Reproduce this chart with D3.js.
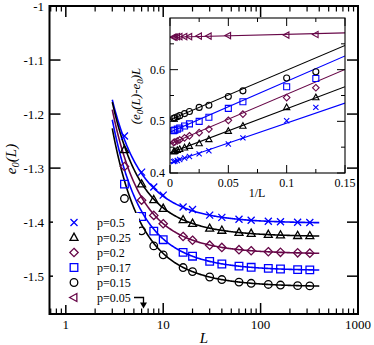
<!DOCTYPE html>
<html><head><meta charset="utf-8">
<script src="https://cdn.jsdelivr.net/npm/d3@7"></script>
<style>
body{margin:0;background:#fff}
svg{display:block}
text{font-family:"Liberation Serif","Times New Roman",serif;fill:#000}
</style>
</head><body><svg id="c" width="374" height="345"></svg>
<script>
// ---------- data ----------
const seriesLabels = ["p=0.5","p=0.25","p=0.2","p=0.17","p=0.15","p=0.05"];
const seriesColors = ["#0000ff","#000000","#670748","#0000ff","#000000","#670748"];
const seriesMarkers = ["x","tri","diamond","square","circle","ltri"];

const mainL = [4,6,8,10,16,20,30,40,60,80,120,160,240,320];
const mainP05  = [-1.2406,-1.3074,-1.3350,-1.3500,-1.3720,-1.3765,-1.3870,-1.3912,-1.3947,-1.3965,-1.3985,-1.3994,-1.4003,-1.4007];
const mainP025 = [-1.2661,-1.3296,-1.3587,-1.3748,-1.3958,-1.4025,-1.4115,-1.4153,-1.4192,-1.4210,-1.4230,-1.4240,-1.4250,-1.4254];
const mainP02  = [-1.2970,-1.3593,-1.3875,-1.4030,-1.4266,-1.4335,-1.4427,-1.4468,-1.4510,-1.4529,-1.4548,-1.4558,-1.4568,-1.4574];
const mainP017 = [-1.3296,-1.3896,-1.4167,-1.4325,-1.4560,-1.4630,-1.4727,-1.4775,-1.4814,-1.4836,-1.4856,-1.4867,-1.4878,-1.4883];
const mainP015 = [-1.3563,-1.4161,-1.4440,-1.4605,-1.4840,-1.4915,-1.5015,-1.5062,-1.5110,-1.5132,-1.5153,-1.5164,-1.5175,-1.5180];
const mainSeries = [mainP05, mainP025, mainP02, mainP017, mainP015];

// fitted curves e0 + a/L + b/L^2  (main panel)
const fitE0 = [-1.402,-1.4268,-1.4588,-1.4898,-1.5196];
const fitA  = [0.4194,0.4388,0.456,0.479,0.503];
const fitB  = [0.798,0.924,1.035,1.077,1.128];
const fitLRange = [3,400];

// inset: (e0(L)-e0)L vs 1/L
const insetL = [8,10,16,20,30,40,60,80,120,160,240,320];
const insetL005 = [8,10,20,30,40,60,80,120,160,240,320];
const insP05  = [0.527,0.501,0.468,0.456,0.443,0.437,0.432,0.429,0.426,0.424,0.423,0.422];
const insP025 = [0.546,0.527,0.491,0.481,0.465,0.457,0.452,0.449,0.446,0.444,0.442,0.441];
const insP02  = [0.565,0.546,0.514,0.502,0.485,0.478,0.472,0.468,0.464,0.462,0.460,0.459];
const insP017 = [0.583,0.567,0.538,0.525,0.508,0.500,0.495,0.491,0.487,0.485,0.483,0.482];
const insP015 = [0.596,0.584,0.559,0.548,0.531,0.527,0.519,0.515,0.511,0.509,0.507,0.506];
const insP005 = [0.668,0.667,0.666,0.665,0.665,0.664,0.664,0.664,0.664,0.663,0.663];
const insetSeries = [insP05, insP025, insP02, insP017, insP015, insP005];
const insetLs = [insetL, insetL, insetL, insetL, insetL, insetL005];
// inset linear fits: intercept + slope*(1/L)
const lineIntercept = [0.4194,0.4388,0.456,0.479,0.503,0.6626];
const lineSlope     = [0.773,0.855,0.963,0.983,0.96,0.057];

const xMainTicks = [1,10,100,1000];
const xMainTickLabels = ["1","10","100","1000"];
const yMainTicks = [-1,-1.1,-1.2,-1.3,-1.4,-1.5];
const yMainTickLabels = ["-1","-1.1","-1.2","-1.3","-1.4","-1.5"];
const xInsetTicks = [0,0.05,0.1,0.15];
const xInsetTickLabels = ["0","0.05","0.1","0.15"];
const xInsetMinor = [0.025,0.075,0.125];
const yInsetTicks = [0.4,0.5,0.6];
const yInsetTickLabels = ["0.4","0.5","0.6"];
const yInsetMinor = [0.45,0.55,0.65];

// ---------- drawing ----------
const svg = d3.select("#c");
const M = {l:49.5, r:358, t:6, b:314};
const x = d3.scaleLog().domain([0.68,1000]).range([M.l,M.r]);
const y = d3.scaleLinear().domain([-1.57,-1]).range([M.b,M.t]);

function markerPath(type, s){
  switch(type){
    case "x": return `M${-s},${-s}L${s},${s}M${-s},${s}L${s},${-s}`;
    case "tri": return `M0,${-s*1.15}L${s*1.05},${s*0.75}L${-s*1.05},${s*0.75}Z`;
    case "ltri": return `M${-s*1.15},0L${s*0.75},${-s*1.05}L${s*0.75},${s*1.05}Z`;
    case "diamond": return `M0,${-s*1.1}L${s*1.1},0L0,${s*1.1}L${-s*1.1},0Z`;
    case "square": return `M${-s},${-s}H${s}V${s}H${-s}Z`;
    case "circle": return `M${s},0A${s},${s} 0 1 1 ${-s},0A${s},${s} 0 1 1 ${s},0Z`;
  }
}
function drawMarker(g, type, cx, cy, s, color, sw){
  g.append("path").attr("d", markerPath(type,s)).attr("transform",`translate(${cx},${cy})`)
   .attr("fill","none").attr("stroke",color).attr("stroke-width",sw);
}

const clipId = "mainclip";
svg.append("clipPath").attr("id",clipId).append("rect")
  .attr("x",M.l).attr("y",M.t).attr("width",M.r-M.l).attr("height",M.b-M.t);
const plot = svg.append("g").attr("clip-path",`url(#${clipId})`);

// main curves
const curveL = d3.range(0,201).map(i => fitLRange[0]*Math.pow(fitLRange[1]/fitLRange[0], i/200));
const line = d3.line().x(d=>x(d[0])).y(d=>y(d[1]));
mainSeries.forEach((s,i)=>{
  const pts = curveL.map(L => [L, fitE0[i] + fitA[i]/L + fitB[i]/(L*L)]);
  plot.append("path").attr("d", line(pts)).attr("fill","none")
    .attr("stroke", seriesColors[i]).attr("stroke-width",1.6);
});
mainSeries.forEach((s,i)=>{
  s.forEach((v,j)=> drawMarker(plot, seriesMarkers[i], x(mainL[j]), y(v), seriesMarkers[i]==="x"?3.5:3.8, seriesColors[i], 1.3));
});

// main axes ticks (all four sides, inward)
const axesG = svg.append("g");
const majLen = 11, minLen = 5.5;
const minorLog = [];
[0.1,1,10,100].forEach(d=>{ for(let k=2;k<=9;k++){ const v=d*k; if(v>=0.68 && v<1000) minorLog.push(v);} });
xMainTicks.forEach(t=>{
  axesG.append("line").attr("x1",x(t)).attr("x2",x(t)).attr("y1",M.b).attr("y2",M.b-majLen).attr("stroke","#000").attr("stroke-width",1.5);
  axesG.append("line").attr("x1",x(t)).attr("x2",x(t)).attr("y1",M.t).attr("y2",M.t+majLen).attr("stroke","#000").attr("stroke-width",1.5);
});
minorLog.forEach(t=>{
  axesG.append("line").attr("x1",x(t)).attr("x2",x(t)).attr("y1",M.b).attr("y2",M.b-minLen).attr("stroke","#000").attr("stroke-width",1.2);
  axesG.append("line").attr("x1",x(t)).attr("x2",x(t)).attr("y1",M.t).attr("y2",M.t+minLen).attr("stroke","#000").attr("stroke-width",1.2);
});
yMainTicks.forEach(t=>{
  axesG.append("line").attr("x1",M.l).attr("x2",M.l+majLen).attr("y1",y(t)).attr("y2",y(t)).attr("stroke","#000").attr("stroke-width",1.5);
  axesG.append("line").attr("x1",M.r).attr("x2",M.r-majLen).attr("y1",y(t)).attr("y2",y(t)).attr("stroke","#000").attr("stroke-width",1.5);
});
axesG.append("rect").attr("x",M.l).attr("y",M.t).attr("width",M.r-M.l).attr("height",M.b-M.t)
  .attr("fill","none").attr("stroke","#000").attr("stroke-width",2);

// main tick labels
xMainTicks.forEach((t,i)=>{
  svg.append("text").attr("x",x(t)).attr("y",329).attr("text-anchor","middle").attr("font-size",13).text(xMainTickLabels[i]);
});
yMainTicks.forEach((t,i)=>{
  svg.append("text").attr("x",44).attr("y",y(t)+4.5).attr("text-anchor","end").attr("font-size",13).text(yMainTickLabels[i]);
});
// axis titles
svg.append("text").attr("x",204).attr("y",343).attr("text-anchor","middle").attr("font-size",15).attr("font-style","italic").text("L");
const yt = svg.append("text").attr("transform","translate(16,159) rotate(-90)").attr("text-anchor","middle").attr("font-size",15).attr("font-style","italic");
yt.append("tspan").text("e");
yt.append("tspan").attr("font-size",10.5).attr("dy",3).text("0");
yt.append("tspan").attr("dy",-3).text("(L)");

// ---------- inset ----------
const I = {l:170, r:345, t:18, b:173};
const xi = d3.scaleLinear().domain([0,0.15]).range([I.l,I.r]);
const yi = d3.scaleLinear().domain([0.4,0.7]).range([I.b,I.t]);
svg.append("rect").attr("x",I.l).attr("y",I.t).attr("width",I.r-I.l).attr("height",I.b-I.t).attr("fill","#fff");
svg.append("clipPath").attr("id","insclip").append("rect").attr("x",I.l).attr("y",I.t).attr("width",I.r-I.l).attr("height",I.b-I.t);
const ig = svg.append("g").attr("clip-path","url(#insclip)");
insetSeries.forEach((s,i)=>{
  ig.append("line").attr("x1",xi(0)).attr("x2",xi(0.15))
    .attr("y1",yi(lineIntercept[i])).attr("y2",yi(lineIntercept[i]+lineSlope[i]*0.15))
    .attr("stroke",seriesColors[i]).attr("stroke-width",1.1);
});
insetSeries.forEach((s,i)=>{
  s.forEach((v,j)=> drawMarker(ig, seriesMarkers[i], xi(1/insetLs[i][j]), yi(v), seriesMarkers[i]==="x"?2.6:3.0, seriesColors[i], 1.1));
});
const ia = svg.append("g");
function tk(x1,y1,x2,y2){ ia.append("line").attr("x1",x1).attr("y1",y1).attr("x2",x2).attr("y2",y2).attr("stroke","#000").attr("stroke-width",1); }
xInsetTicks.forEach(t=>{ tk(xi(t),I.b,xi(t),I.b-8); tk(xi(t),I.t,xi(t),I.t+8); });
xInsetMinor.forEach(t=>{ tk(xi(t),I.b,xi(t),I.b-4); tk(xi(t),I.t,xi(t),I.t+4); });
yInsetTicks.forEach(t=>{ tk(I.l,yi(t),I.l+8,yi(t)); tk(I.r,yi(t),I.r-8,yi(t)); });
yInsetMinor.forEach(t=>{ tk(I.l,yi(t),I.l+4,yi(t)); tk(I.r,yi(t),I.r-4,yi(t)); });
ia.append("rect").attr("x",I.l).attr("y",I.t).attr("width",I.r-I.l).attr("height",I.b-I.t)
  .attr("fill","none").attr("stroke","#000").attr("stroke-width",1.1);
xInsetTicks.forEach((t,i)=>{
  svg.append("text").attr("x",xi(t)).attr("y",187).attr("text-anchor","middle").attr("font-size",12).text(xInsetTickLabels[i]);
});
yInsetTicks.forEach((t,i)=>{
  svg.append("text").attr("x",165).attr("y",yi(t)+4).attr("text-anchor","end").attr("font-size",12).text(yInsetTickLabels[i]);
});
svg.append("text").attr("x",257).attr("y",197).attr("text-anchor","middle").attr("font-size",12).text("1/L");
const iyt = svg.append("text").attr("transform","translate(140,96) rotate(-90)").attr("text-anchor","middle").attr("font-size",13).attr("font-style","italic");
iyt.append("tspan").text("(e");
iyt.append("tspan").attr("font-size",9).attr("dy",3).text("0");
iyt.append("tspan").attr("dy",-3).text("(L)-e");
iyt.append("tspan").attr("font-size",9).attr("dy",3).text("0");
iyt.append("tspan").attr("dy",-3).text(")L");

// ---------- legend ----------
const lg = svg.append("g");
lg.append("rect").attr("x",53).attr("y",213).attr("width",86).attr("height",92).attr("fill","#fff");
seriesLabels.forEach((lab,i)=>{
  const ry = 222.5 + i*15;
  drawMarker(lg, seriesMarkers[i], 74, ry, seriesMarkers[i]==="x"?3.5:3.8, seriesColors[i], 1.3);
  lg.append("text").attr("x",97).attr("y",ry+4).attr("font-size",12).text(lab);
});
lg.append("path").attr("d","M134,297.5H143.5V303").attr("fill","none").attr("stroke","#000").attr("stroke-width",1.3);
lg.append("path").attr("d","M140,302.5L147,302.5L143.5,308.5Z").attr("fill","#000");
</script>
</body></html>
